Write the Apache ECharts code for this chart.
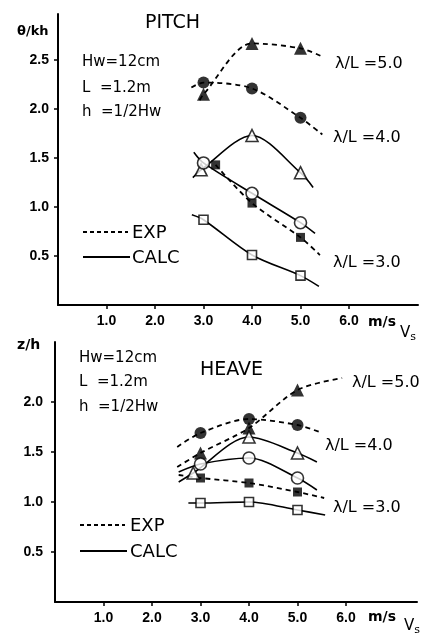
<!DOCTYPE html>
<html>
<head>
<meta charset="utf-8">
<script src="https://cdn.jsdelivr.net/npm/echarts@6/dist/echarts.min.js"></script>
<style>
  html, body { margin: 0; background: #fff; }
  #chart { width: 430px; height: 639px; }
</style>
</head>
<body>
<div id="chart"></div>
<script>
// ship speed Vs (m/s) of the runs
const speeds = [3.0, 4.0, 5.0]
const xTicks = [1, 2, 3, 4, 5, 6]
const pitchTicks = [0.5, 1.0, 1.5, 2.0, 2.5]
const heaveTicks = [0.5, 1.0, 1.5, 2.0]

// PITCH  θ/kh
const pitchExp5 = [2.15, 2.67, 2.62]      // ▲ λ/L=5.0
const pitchExp4 = [2.27, 2.21, 1.91]      // ● λ/L=4.0
const pitchExp3X = [3.25, 4.0, 5.0]
const pitchExp3 = [1.43, 1.04, 0.69]      // ■ λ/L=3.0
const pitchCalcTriX = [2.95, 4.0, 5.0]
const pitchCalcTri = [1.38, 1.73, 1.35]   // △
const pitchCalcCirc = [1.45, 1.14, 0.84]  // ○
const pitchCalcSq = [0.87, 0.51, 0.30]    // □

// where the faired pitch curves begin and end
const pitchExp5Ends = [[2.92, 2.09], [5.47, 2.53]]
const pitchExp4Ends = [[2.75, 2.22], [5.45, 1.74]]
const pitchExp3Ends = [null, [5.4, 0.51]]
const pitchCalcTriEnds = [[2.78, 1.30], [5.26, 1.20]]
const pitchCalcCircEnds = [[2.8, 1.56], [5.3, 0.73]]
const pitchCalcSqEnds = [[2.76, 0.92], [5.38, 0.19]]

// HEAVE  z/h
const heaveExp5 = [1.49, 1.74, 2.12]      // ▲
const heaveExp4 = [1.69, 1.83, 1.77]      // ●
const heaveExp3 = [1.24, 1.19, 1.10]      // ■
const heaveCalcTriX = [2.85, 4.0, 5.0]
const heaveCalcTri = [1.29, 1.65, 1.49]   // △
const heaveCalcCirc = [1.38, 1.44, 1.24]  // ○
const heaveCalcSq = [0.99, 1.00, 0.92]    // □

const heaveExp5Ends = [[2.52, 1.35], [5.92, 2.24]]
const heaveExp4Ends = [[2.52, 1.55], [5.51, 1.69]]
const heaveExp3Ends = [[2.55, 1.27], [5.55, 1.04]]
const heaveCalcTriEnds = [[2.55, 1.20], [5.4, 1.40]]
const heaveCalcCircEnds = [[2.55, 1.30], [5.4, 1.12]]
const heaveCalcSqEnds = [[2.75, 0.99], [5.57, 0.87]]

const font = '"Liberation Sans", Arial, sans-serif'
const wideFont = '"DejaVu Sans", sans-serif'
const ink = '#000'

function pts(xs, ys) {
  return ys.map((y, i) => [xs[i], y])
}

function curve(idx, xs, ys, ends, dashed) {
  const data = pts(xs, ys)
  if (ends[0]) data.unshift(ends[0])
  if (ends[1]) data.push(ends[1])
  return {
    type: 'line', xAxisIndex: idx, yAxisIndex: idx,
    data, smooth: 0.3, showSymbol: false, silent: true, z: 2,
    lineStyle: { color: ink, width: dashed ? 1.8 : 1.6, type: dashed ? [5, 4] : 'solid' }
  }
}

function marks(idx, xs, ys, symbol, filled, size) {
  return {
    type: 'scatter', xAxisIndex: idx, yAxisIndex: idx,
    data: pts(xs, ys), symbol, symbolSize: size, z: 5,
    itemStyle: filled
      ? { color: ink }
      : { color: '#fff', borderColor: ink, borderWidth: 1.6 }
  }
}

function xAxis(idx, max) {
  return {
    type: 'value', gridIndex: idx, min: 0, max,
    splitLine: { show: false },
    axisLine: { onZero: false, lineStyle: { color: ink, width: 2 } },
    axisTick: { customValues: xTicks, length: 4, lineStyle: { color: ink, width: 1.5 } },
    axisLabel: {
      customValues: xTicks, formatter: (v) => v.toFixed(1), margin: 9,
      color: ink, fontSize: 14, fontWeight: 'bold', fontFamily: font
    }
  }
}

function yAxis(idx, max, ticks, margin) {
  return {
    type: 'value', gridIndex: idx, min: 0, max,
    splitLine: { show: false },
    axisLine: { onZero: false, lineStyle: { color: ink, width: 2 } },
    axisTick: { customValues: ticks, length: 4, lineStyle: { color: ink, width: 1.5 } },
    axisLabel: {
      customValues: ticks, formatter: (v) => v.toFixed(1), margin,
      color: ink, fontSize: 14, fontWeight: 'bold', fontFamily: font
    }
  }
}

function text(x, y, str, size, opts = {}) {
  return {
    type: 'text', x, y,
    style: { text: str, fill: ink, fontSize: size, fontFamily: wideFont, verticalAlign: 'middle', ...opts }
  }
}

function vs(x, y) {
  return {
    type: 'text', x, y,
    style: {
      text: '{v|V}{s|s}', verticalAlign: 'middle',
      rich: {
        v: { fontSize: 15, fontFamily: wideFont, fill: ink },
        s: { fontSize: 11, fontFamily: wideFont, fill: ink, padding: [8, 0, 0, 0] }
      }
    }
  }
}

function line(x1, y1, x2, y2, dashed) {
  return {
    type: 'line', shape: { x1, y1, x2, y2 },
    style: { stroke: ink, lineWidth: 1.8, lineDash: dashed ? [4, 3] : null }
  }
}

const chart = echarts.init(document.getElementById('chart'))
chart.setOption({
  animation: false,
  backgroundColor: '#fff',
  grid: [
    { left: 58, top: 14, width: 360, height: 291 },
    { left: 55, top: 342, width: 362, height: 260 }
  ],
  xAxis: [xAxis(0, 360 / 48.5), xAxis(1, 362 / 48.5)],
  yAxis: [yAxis(0, 2.97, pitchTicks, 9), yAxis(1, 2.6, heaveTicks, 12)],
  series: [
    curve(0, speeds, pitchExp5, pitchExp5Ends, true),
    curve(0, speeds, pitchExp4, pitchExp4Ends, true),
    curve(0, pitchExp3X, pitchExp3, pitchExp3Ends, true),
    curve(0, pitchCalcTriX, pitchCalcTri, pitchCalcTriEnds, false),
    curve(0, speeds, pitchCalcCirc, pitchCalcCircEnds, false),
    curve(0, speeds, pitchCalcSq, pitchCalcSqEnds, false),
    marks(0, speeds, pitchExp5, 'triangle', true, 13),
    marks(0, speeds, pitchExp4, 'circle', true, 12),
    marks(0, pitchExp3X, pitchExp3, 'rect', true, 9),
    marks(0, pitchCalcTriX, pitchCalcTri, 'triangle', false, 12),
    marks(0, speeds, pitchCalcCirc, 'circle', false, 12),
    marks(0, speeds, pitchCalcSq, 'rect', false, 9),

    curve(1, speeds, heaveExp5, heaveExp5Ends, true),
    curve(1, speeds, heaveExp4, heaveExp4Ends, true),
    curve(1, speeds, heaveExp3, heaveExp3Ends, true),
    curve(1, heaveCalcTriX, heaveCalcTri, heaveCalcTriEnds, false),
    curve(1, speeds, heaveCalcCirc, heaveCalcCircEnds, false),
    curve(1, speeds, heaveCalcSq, heaveCalcSqEnds, false),
    marks(1, speeds, heaveExp5, 'triangle', true, 13),
    marks(1, speeds, heaveExp4, 'circle', true, 12),
    marks(1, speeds, heaveExp3, 'rect', true, 9),
    marks(1, heaveCalcTriX, heaveCalcTri, 'triangle', false, 12),
    marks(1, speeds, heaveCalcCirc, 'circle', false, 12),
    marks(1, speeds, heaveCalcSq, 'rect', false, 9)
  ],
  graphic: [
    // pitch panel
    text(17, 32, 'θ/kh', 13, { fontWeight: 'bold' }),
    text(145, 23, 'PITCH', 19),
    text(82, 62, 'Hw=12cm', 15),
    text(82, 88, 'L  =1.2m', 15),
    text(82, 112, 'h  =1/2Hw', 15),
    line(83, 232, 128, 232, true),
    text(132, 233, 'EXP', 18),
    line(83, 257, 130, 257, false),
    text(132, 258, 'CALC', 18),
    text(335, 64, 'λ/L =5.0', 16),
    text(333, 138, 'λ/L =4.0', 16),
    text(333, 263, 'λ/L =3.0', 16),
    text(368, 322, 'm/s', 14, { fontWeight: 'bold' }),
    vs(400, 333),
    // heave panel
    text(17, 345, 'z/h', 14, { fontWeight: 'bold' }),
    text(200, 370, 'HEAVE', 19),
    text(79, 358, 'Hw=12cm', 15),
    text(79, 382, 'L  =1.2m', 15),
    text(79, 407, 'h  =1/2Hw', 15),
    line(80, 525, 125, 525, true),
    text(130, 526, 'EXP', 18),
    line(80, 551, 127, 551, false),
    text(130, 552, 'CALC', 18),
    text(352, 383, 'λ/L =5.0', 16),
    text(325, 446, 'λ/L =4.0', 16),
    text(333, 508, 'λ/L =3.0', 16),
    text(368, 617, 'm/s', 14, { fontWeight: 'bold' }),
    vs(404, 626)
  ]
})
</script>
</body>
</html>
